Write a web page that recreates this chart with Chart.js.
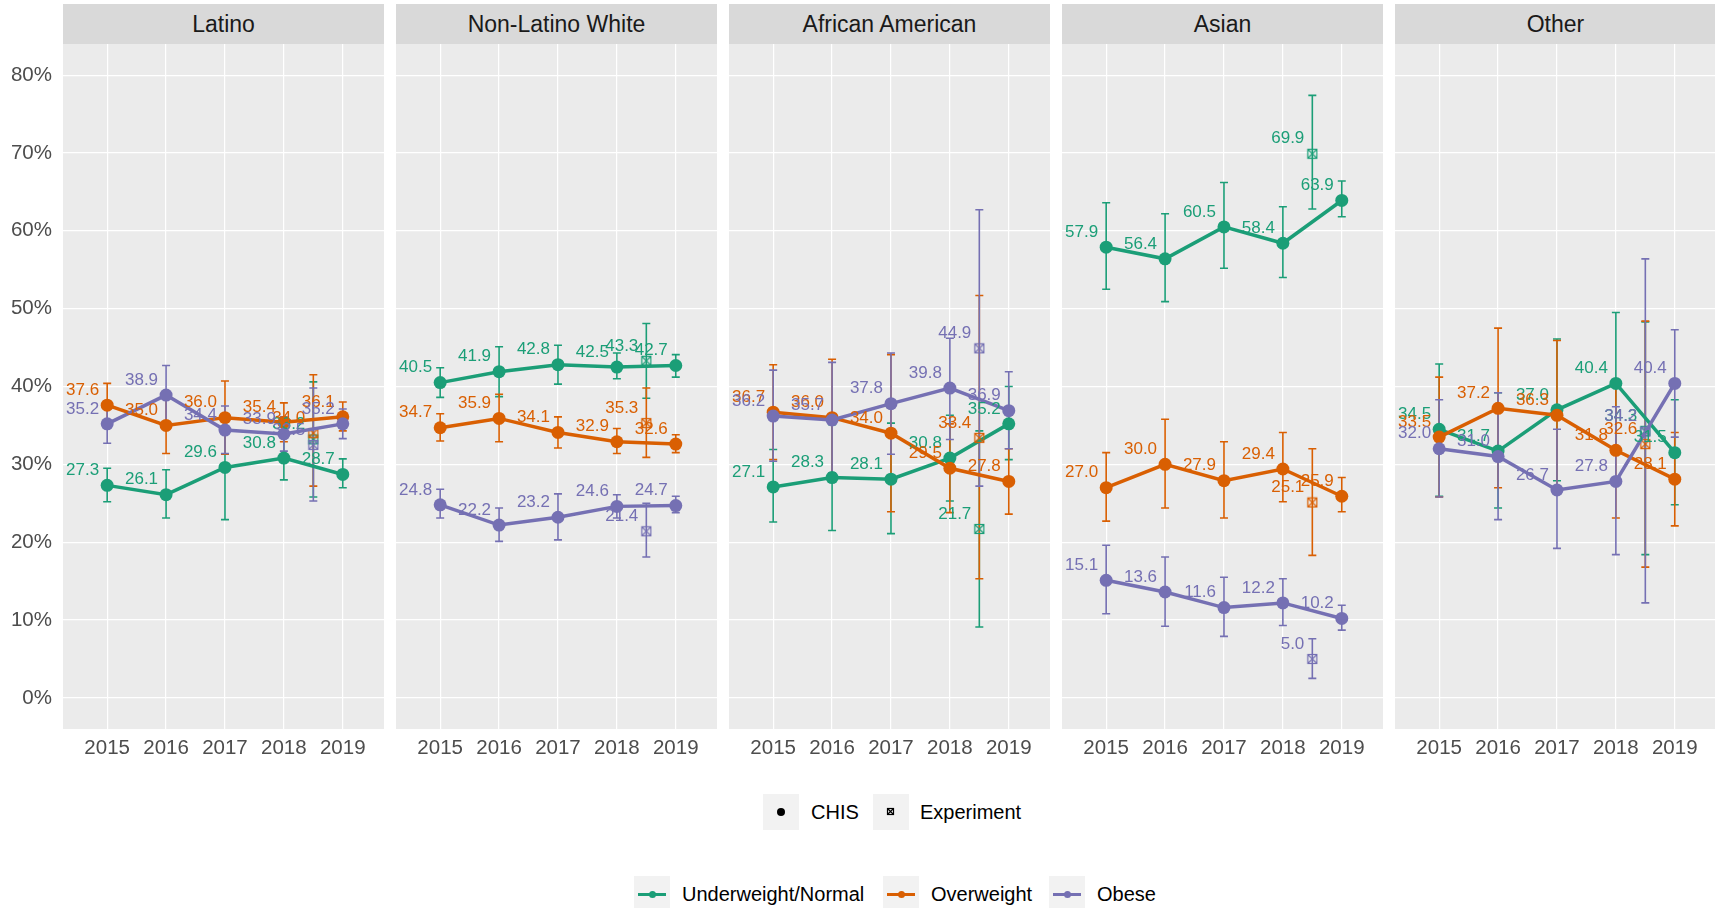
<!DOCTYPE html>
<html>
<head>
<meta charset="utf-8">
<script src="https://cdn.jsdelivr.net/npm/chart.js@4.4.1/dist/chart.umd.min.js"></script>
<style>
    body { margin: 0; background: #fff; width: 1715px; height: 908px; position: relative; overflow: hidden;
           font-family: "Liberation Sans", Arial, sans-serif; }
    .strip { position: absolute; top: 4px; height: 40px; width: 321px; background: #d9d9d9; color: #1a1a1a;
             font-size: 23px; display: flex; align-items: center; justify-content: center; }
    .panel { position: absolute; top: 44px; }
    .key { position: absolute; width: 36px; height: 36px; background: #f2f2f2; }
    .ltext { position: absolute; font-size: 20px; line-height: 24px; color: #000; white-space: nowrap; }
</style>
</head>
<body>
<div id="wrap"></div>
<script>
const years = [2015, 2016, 2017, 2018, 2019];
const expYear = 2018.5;
const yTicks = [0, 10, 20, 30, 40, 50, 60, 70, 80];
const panels = ['Latino', 'Non-Latino White', 'African American', 'Asian', 'Other'];
const groups = ['Underweight/Normal', 'Overweight', 'Obese'];
const colors = ['#1B9E77', '#D95F02', '#7570B3'];

// CHIS estimates, one row per panel (same order as panels)
const normalChis = [
    [27.3, 26.1, 29.6, 30.8, 28.7],
    [40.5, 41.9, 42.8, 42.5, 42.7],
    [27.1, 28.3, 28.1, 30.8, 35.2],
    [57.9, 56.4, 60.5, 58.4, 63.9],
    [34.5, 31.7, 37.0, 40.4, 31.5]];
const normalLow = [
    [25.2, 23.1, 22.9, 28.0, 27.0],
    [38.6, 38.7, 40.3, 41.0, 41.2],
    [22.6, 21.5, 21.1, 25.3, 30.6],
    [52.5, 50.9, 55.2, 54.0, 61.8],
    [25.9, 24.4, 27.9, 31.3, 24.8]];
const normalHigh = [
    [29.5, 29.3, 36.3, 33.6, 30.7],
    [42.4, 45.1, 45.3, 44.3, 44.1],
    [31.9, 35.1, 35.3, 36.3, 40.0],
    [63.6, 62.2, 66.2, 63.1, 66.4],
    [42.9, 39.2, 46.1, 49.5, 38.3]];
const normalExp = [33.2, 43.3, 21.7, 69.9, 34.3];
const normalExpLow = [25.8, 38.5, 9.1, 62.8, 18.4];
const normalExpHigh = [40.6, 48.1, 34.3, 77.4, 48.3];

const overChis = [
    [37.6, 35.0, 36.0, 35.4, 36.1],
    [34.7, 35.9, 34.1, 32.9, 32.6],
    [36.7, 36.0, 34.0, 29.5, 27.8],
    [27.0, 30.0, 27.9, 29.4, 25.9],
    [33.5, 37.2, 36.3, 31.8, 28.1]];
const overLow = [
    [34.8, 31.4, 31.3, 32.9, 34.3],
    [33.0, 32.9, 32.1, 31.4, 31.5],
    [30.6, 28.5, 23.9, 23.8, 23.6],
    [22.7, 24.4, 23.1, 25.2, 23.9],
    [25.8, 27.0, 26.7, 23.1, 22.1]];
const overHigh = [
    [40.4, 38.6, 40.7, 37.9, 38.0],
    [36.5, 39.0, 36.1, 34.6, 33.8],
    [42.8, 43.5, 44.1, 35.2, 32.0],
    [31.5, 35.8, 32.9, 34.1, 28.3],
    [41.2, 47.5, 45.9, 40.5, 34.1]];
const overExp = [34.0, 35.3, 33.4, 25.1, 32.6];
const overExpLow = [27.2, 30.9, 15.3, 18.3, 16.8];
const overExpHigh = [41.5, 39.8, 51.7, 32.0, 48.4];

const obeseChis = [
    [35.2, 38.9, 34.4, 33.9, 35.2],
    [24.8, 22.2, 23.2, 24.6, 24.7],
    [36.2, 35.7, 37.8, 39.8, 36.9],
    [15.1, 13.6, 11.6, 12.2, 10.2],
    [32.0, 31.0, 26.7, 27.8, 40.4]];
const obeseLow = [
    [32.7, 35.1, 31.4, 31.7, 33.3],
    [23.1, 20.1, 20.3, 23.1, 23.8],
    [30.4, 28.9, 31.3, 33.2, 32.0],
    [10.8, 9.2, 7.9, 9.3, 8.7],
    [25.8, 22.9, 19.2, 18.4, 33.5]];
const obeseHigh = [
    [37.7, 42.7, 37.5, 36.1, 37.1],
    [26.8, 24.4, 26.2, 26.1, 25.9],
    [42.1, 43.1, 44.3, 46.2, 41.9],
    [19.6, 18.1, 15.5, 15.3, 11.9],
    [38.3, 39.2, 34.5, 37.4, 47.3]];
const obeseExp = [32.5, 21.4, 44.9, 5.0, 34.2];
const obeseExpLow = [25.3, 18.1, 27.2, 2.5, 12.2];
const obeseExpHigh = [39.8, 25.0, 62.7, 7.6, 56.4];

const chis = [normalChis, overChis, obeseChis];
const chisLow = [normalLow, overLow, obeseLow];
const chisHigh = [normalHigh, overHigh, obeseHigh];
const exps = [normalExp, overExp, obeseExp];
const expsLow = [normalExpLow, overExpLow, obeseExpLow];
const expsHigh = [normalExpHigh, overExpHigh, obeseExpHigh];

const FONT = '"Liberation Sans", Arial, sans-serif';

// square-cross marker for the experiment points
function makeMarker(color, size) {
    const c = document.createElement('canvas');
    c.width = size + 3;
    c.height = size + 3;
    const g = c.getContext('2d');
    g.strokeStyle = color;
    g.lineWidth = 1.2;
    g.strokeRect(1.5, 1.5, size, size);
    g.beginPath();
    g.moveTo(1.5, 1.5); g.lineTo(1.5 + size, 1.5 + size);
    g.moveTo(1.5 + size, 1.5); g.lineTo(1.5, 1.5 + size);
    g.stroke();
    return c;
}

const panelBg = {
    id: 'panelBg',
    beforeDraw(chart) {
        const a = chart.chartArea;
        chart.ctx.save();
        chart.ctx.fillStyle = '#ebebeb';
        chart.ctx.fillRect(a.left, a.top, a.right - a.left, a.bottom - a.top);
        chart.ctx.restore();
    }
};

// error bars under the points, value labels on top
const errorBars = {
    id: 'errorBars',
    beforeDatasetsDraw(chart) {
        const p = chart.options.panelIndex;
        const xs = chart.scales.x, ys = chart.scales.y;
        const ctx = chart.ctx;
        ctx.save();
        ctx.lineWidth = 1.6;
        function bar(x, lo, hi) {
            const px = xs.getPixelForValue(x);
            const a = ys.getPixelForValue(lo), b = ys.getPixelForValue(hi);
            ctx.beginPath();
            ctx.moveTo(px, a); ctx.lineTo(px, b);
            ctx.moveTo(px - 4, a); ctx.lineTo(px + 4, a);
            ctx.moveTo(px - 4, b); ctx.lineTo(px + 4, b);
            ctx.stroke();
        }
        for (let s = 0; s < 3; s++) {
            ctx.strokeStyle = colors[s];
            years.forEach((yr, i) => bar(yr, chisLow[s][p][i], chisHigh[s][p][i]));
            bar(expYear, expsLow[s][p], expsHigh[s][p]);
        }
        ctx.restore();
    },
    afterDatasetsDraw(chart) {
        const p = chart.options.panelIndex;
        const xs = chart.scales.x, ys = chart.scales.y;
        const ctx = chart.ctx;
        ctx.save();
        ctx.font = '17px ' + FONT;
        ctx.textAlign = 'right';
        ctx.textBaseline = 'middle';
        function label(x, v) {
            ctx.fillText(v.toFixed(1), xs.getPixelForValue(x) - 8, ys.getPixelForValue(v) - 15);
        }
        for (let s = 0; s < 3; s++) {
            ctx.fillStyle = colors[s];
            years.forEach((yr, i) => label(yr, chis[s][p][i]));
            label(expYear, exps[s][p]);
        }
        ctx.restore();
    }
};

const wrap = document.getElementById('wrap');

panels.forEach((name, p) => {
    const left = 63 + 333 * p;
    const strip = document.createElement('div');
    strip.className = 'strip';
    strip.style.left = left + 'px';
    strip.textContent = name;
    wrap.appendChild(strip);

    const canvas = document.createElement('canvas');
    const cLeft = p === 0 ? 0 : left;
    const cWidth = p === 0 ? 384 : 321;
    canvas.width = cWidth;
    canvas.height = 736;
    canvas.className = 'panel';
    canvas.style.left = cLeft + 'px';
    wrap.appendChild(canvas);

    const datasets = [];
    for (let s = 0; s < 3; s++) {
        datasets.push({
            label: groups[s] + ' CHIS',
            data: years.map((yr, i) => ({ x: yr, y: chis[s][p][i] })),
            showLine: true,
            borderColor: colors[s],
            backgroundColor: colors[s],
            borderWidth: 3.5,
            pointRadius: 6.5,
            pointBorderWidth: 0,
            order: 3 - s,
            clip: false
        });
        datasets.push({
            label: groups[s] + ' Experiment',
            data: [{ x: expYear, y: exps[s][p] }],
            showLine: false,
            pointStyle: makeMarker(colors[s], 9),
            order: 3 - s,
            clip: false
        });
    }

    new Chart(canvas, {
        type: 'scatter',
        data: { datasets },
        options: {
            panelIndex: p,
            responsive: false,
            animation: false,
            devicePixelRatio: 1,
            layout: { padding: 0, autoPadding: false },
            plugins: { legend: { display: false }, tooltip: { enabled: false } },
            scales: {
                x: {
                    type: 'linear',
                    min: 2014.25,
                    max: 2019.7,
                    afterBuildTicks: sc => { sc.ticks = years.map(v => ({ value: v })); },
                    afterFit: sc => { sc.height = 51; sc.paddingLeft = 0; sc.paddingRight = 0; },
                    grid: { color: '#ffffff', lineWidth: 1.2, drawTicks: false },
                    border: { display: false },
                    ticks: {
                        autoSkip: false, maxRotation: 0, padding: 7,
                        color: '#4d4d4d', font: { size: 20.5, family: FONT },
                        callback: v => String(v)
                    }
                },
                y: {
                    min: -4,
                    max: 84,
                    afterBuildTicks: sc => { sc.ticks = yTicks.map(v => ({ value: v })); },
                    afterFit: sc => { sc.width = p === 0 ? 63 : 0; sc.paddingTop = 0; sc.paddingBottom = 0; },
                    grid: { color: '#ffffff', lineWidth: 1.2, drawTicks: false },
                    border: { display: false },
                    ticks: {
                        display: p === 0, padding: 11,
                        color: '#4d4d4d', font: { size: 20.5, family: FONT },
                        callback: v => v + '%'
                    }
                }
            }
        },
        plugins: [panelBg, errorBars]
    });
});

// legends (shape + colour), laid out like the ggplot guide boxes
function addDiv(cls, left, top, text) {
    const d = document.createElement('div');
    d.className = cls;
    d.style.left = left + 'px';
    d.style.top = top + 'px';
    if (text) d.textContent = text;
    wrap.appendChild(d);
    return d;
}

const k1 = addDiv('key', 763, 794);
const dot = document.createElement('div');
dot.style.cssText = 'position:absolute;left:14px;top:14px;width:8px;height:8px;border-radius:50%;background:#000';
k1.appendChild(dot);
addDiv('ltext', 811, 800, 'CHIS');
const k2 = addDiv('key', 873, 794);
const mk = makeMarker('#000', 6);
mk.style.cssText = 'position:absolute;left:13px;top:13px';
k2.appendChild(mk);
addDiv('ltext', 920, 800, 'Experiment');

const keyLefts = [634, 883, 1049];
const textLefts = [682, 931, 1097];
groups.forEach((g, s) => {
    const k = addDiv('key', keyLefts[s], 876);
    const ln = document.createElement('div');
    ln.style.cssText = 'position:absolute;left:4px;top:16.5px;width:28px;height:3px;background:' + colors[s];
    k.appendChild(ln);
    const d = document.createElement('div');
    d.style.cssText = 'position:absolute;left:14.5px;top:14.5px;width:7px;height:7px;border-radius:50%;background:' + colors[s];
    k.appendChild(d);
    addDiv('ltext', textLefts[s], 882, g);
});
</script>
</body>
</html>
